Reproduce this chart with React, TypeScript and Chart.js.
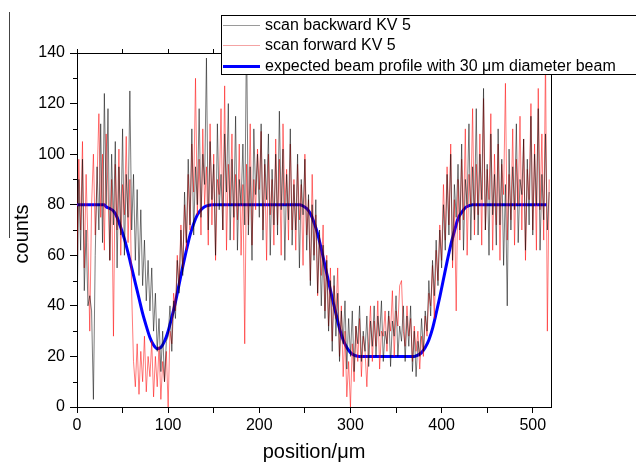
import React, { useEffect, useRef } from 'react';
import { Chart, registerables } from 'chart.js';

Chart.register(...registerables);

// ---- data ----
const SCAN_STEP_UM = 2; // scan positions: 0, 2, 4, ... µm

const scanBackward: number[] = [
  33, 90, 62, 98, 46, 70, 40, 44, 38, 3,
  60, 95, 70, 112, 65, 124, 80, 118, 58, 100,
  72, 105, 55, 95, 68, 110, 60, 92, 75, 125,
  70, 92, 58, 86, 52, 78, 48, 66, 42, 58,
  38, 55, 30, 45, 22, 35, 14, 30, 10, 26,
  28, 40, 22, 42, 35, 58, 45, 70, 52, 85,
  65, 98, 72, 110, 68, 95, 80, 118, 75, 100,
  88, 138, 70, 105, 82, 96, 60, 112, 78, 92,
  70, 108, 85, 120, 66, 98, 75, 115, 62, 90,
  80, 104, 72, 150, 68, 95, 58, 110, 84, 100,
  75, 112, 66, 98, 82, 108, 60, 94, 72, 100,
  68, 117, 78, 102, 58, 92, 74, 110, 64, 88,
  70, 100, 55, 90, 76, 98, 62, 84, 48, 80,
  58, 82, 45, 70, 40, 64, 35, 58, 30, 50,
  22, 52, 28, 45, 18, 38, 25, 42, 15, 35,
  20, 38, 14, 32, 25, 40, 18, 30, 22, 36,
  16, 34, 24, 40, 20, 36, 28, 42, 18, 30,
  25, 38, 16, 34, 28, 44, 20, 32, 26, 40,
  18, 36, 24, 40, 14, 30, 12, 26, 20, 35,
  22, 38, 30, 50, 36, 58, 44, 66, 48, 70,
  55, 80, 62, 92, 68, 100, 58, 88, 75, 96,
  70, 104, 62, 90, 80, 112, 66, 95, 74, 118,
  68, 100, 82, 126, 70, 96, 60, 108, 76, 92,
  64, 110, 72, 98, 56, 88, 40, 102, 70, 95,
  78, 112, 65, 90, 84, 106, 62, 98, 72, 115,
  68, 100, 80, 118, 62, 92, 74, 108, 70, 85,
];

const scanForward: number[] = [
  60, 98, 70, 105, 55, 92, 65, 30, 80, 100,
  68, 90, 116, 75, 100, 62, 108, 85, 58, 90,
  28, 96, 70, 102, 60, 88, 76, 107, 65, 90,
  45, 18, 8, 25, 5, 22, 10, 28, 6, 20,
  12, 26, 4, 20, 8, 24, 3, 18, 10, 22,
  0, 30, 25, 45, 38, 60, 48, 72, 55, 80,
  62, 92, 70, 104, 85, 130, 76, 98, 68, 110,
  80, 95, 64, 112, 72, 100, 58, 90, 84, 118,
  70, 127, 62, 96, 80, 108, 66, 92, 74, 104,
  60, 88, 25, 96, 72, 112, 64, 90, 78, 102,
  86, 109, 70, 96, 58, 100, 76, 90, 64, 106,
  72, 98, 60, 112, 80, 94, 66, 104, 70, 90,
  62, 96, 74, 88, 56, 100, 68, 82, 50, 92,
  60, 76, 44, 68, 52, 72, 38, 60, 32, 55,
  26, 48, 35, 55, 20, 40, 12, 30, 4, 18,
  0, 25, 10, 32, 18, 35, 12, 28, 22, 8,
  26, 40, 18, 34, 24, 42, 15, 30, 28, 38,
  22, 36, 30, 46, 20, 38, 32, 48, 50, 30,
  24, 40, 28, 35, 18, 32, 22, 30, 15, 28,
  20, 36, 28, 45, 40, 56, 35, 62, 50, 72,
  58, 88, 66, 95, 72, 104, 55, 82, 38, 90,
  66, 98, 74, 110, 60, 92, 80, 118, 68, 96,
  76, 108, 64, 122, 70, 94, 82, 116, 62, 100,
  72, 104, 58, 96, 84, 128, 66, 92, 74, 110,
  64, 98, 80, 115, 70, 106, 58, 94, 82, 120,
  70, 104, 62, 126, 78, 108, 66, 140, 30, 90,
];

const profileX: number[] = [
  0, 30, 32, 36, 40, 44, 48, 52, 56, 60, 64, 68, 72, 76, 80, 84, 88, 92, 96,
  100, 104, 108, 112, 116, 120, 124, 128, 132, 136, 140, 144, 148,
  244, 248, 252, 256, 260, 264, 268, 272, 276, 280, 284, 288, 292, 296, 300, 304, 308, 312,
  370, 374, 378, 382, 386, 390, 394, 398, 402, 406, 410, 414, 418, 422, 426, 430, 434, 515,
];
const profileY: number[] = [
  80, 80, 79.2, 78.5, 77.5, 75, 71, 66.5, 61, 55, 49, 43, 37, 32, 27.5, 24.5, 23, 23.5, 26,
  30, 35.5, 41.5, 48.5, 55.5, 62, 68, 72.5, 76, 78, 79.2, 79.7, 80,
  80, 79.5, 78.5, 76.5, 73, 68.5, 62.5, 56, 49.5, 43, 37, 31, 26.5, 23.5, 21.5, 20.5, 20.1, 20,
  20, 20.5, 21.5, 23.5, 26.5, 31, 37, 43.5, 50.5, 57.5, 64, 69.5, 74.5, 77, 78.8, 79.6, 80, 80,
];

const seriesNames = [
  'scan backward KV 5',
  'scan forward KV 5',
  'expected beam profile with 30 \u03bcm diameter beam',
];
const xTitle = 'position/\u03bcm';
const yTitle = 'counts';

const X_MIN = 0;
const X_MAX = 520;
const Y_MIN = 0;
const Y_MAX = 140;

// ---- styles ----
const FONT = '"Liberation Sans", Arial, sans-serif';
const COL_BACK = 'rgba(0,0,0,0.65)';
const COL_FWD = 'rgba(255,0,0,0.65)';
const COL_PROFILE = '#0000ff';
const LEGEND_BACK = '#9a9a9a';
const LEGEND_FWD = '#f4a3a3';

const decorPlugin = {
  id: 'decor',
  afterDraw(chart: any) {
    const { ctx, chartArea: a, scales } = chart;
    ctx.save();
    ctx.strokeStyle = '#000';
    ctx.lineWidth = 1;
    // right frame
    ctx.beginPath();
    ctx.moveTo(Math.round(a.right) + 0.5, a.top);
    ctx.lineTo(Math.round(a.right) + 0.5, a.bottom);
    ctx.stroke();
    // minor y ticks
    for (let v = 10; v < Y_MAX; v += 20) {
      const py = Math.round(scales.y.getPixelForValue(v)) + 0.5;
      ctx.beginPath();
      ctx.moveTo(a.left - 4, py);
      ctx.lineTo(a.left, py);
      ctx.stroke();
    }
    // stray frame line at far left
    ctx.strokeStyle = '#444';
    ctx.beginPath();
    ctx.moveTo(9.5, 12);
    ctx.lineTo(9.5, 238);
    ctx.stroke();

    // axis titles
    ctx.fillStyle = '#000';
    ctx.font = `20px ${FONT}`;
    ctx.textAlign = 'center';
    ctx.textBaseline = 'middle';
    ctx.fillText(xTitle, (a.left + a.right) / 2, 452);
    ctx.save();
    ctx.translate(22, 234);
    ctx.rotate(-Math.PI / 2);
    ctx.fillText(yTitle, 0, 0);
    ctx.restore();

    // legend box
    const lx = 221, ly = 15, lh = 60;
    ctx.fillStyle = '#fff';
    ctx.fillRect(lx, ly, 636 - lx + 5, lh);
    ctx.strokeStyle = '#000';
    ctx.lineWidth = 1;
    ctx.strokeRect(lx + 0.5, ly + 0.5, 636 - lx + 5, lh - 1);
    const items = [
      { c: LEGEND_BACK, w: 1, y: 25 },
      { c: LEGEND_FWD, w: 1, y: 45 },
      { c: COL_PROFILE, w: 3, y: 66 },
    ];
    ctx.font = `16px ${FONT}`;
    ctx.textAlign = 'left';
    ctx.textBaseline = 'middle';
    items.forEach((it, i) => {
      ctx.strokeStyle = it.c;
      ctx.lineWidth = it.w;
      ctx.beginPath();
      ctx.moveTo(223, it.y + 0.5);
      ctx.lineTo(260, it.y + 0.5);
      ctx.stroke();
      ctx.fillStyle = '#000';
      ctx.fillText(seriesNames[i], 265, it.y + 1);
    });
    ctx.restore();
  },
};

export default function App() {
  const ref = useRef<HTMLCanvasElement | null>(null);
  useEffect(() => {
    if (!ref.current) return;
    const tickFont = { family: FONT, size: 16 };
    const chart = new Chart(ref.current, {
      type: 'line',
      data: {
        datasets: [
          {
            label: seriesNames[0],
            data: scanBackward.map((v, i) => ({ x: i * SCAN_STEP_UM, y: v })),
            borderColor: COL_BACK,
            borderWidth: 0.8,
            pointRadius: 0,
            tension: 0,
          },
          {
            label: seriesNames[1],
            data: scanForward.map((v, i) => ({ x: i * SCAN_STEP_UM, y: v })),
            borderColor: COL_FWD,
            borderWidth: 0.8,
            pointRadius: 0,
            tension: 0,
          },
          {
            label: seriesNames[2],
            data: profileX.map((x, i) => ({ x, y: profileY[i] })),
            borderColor: COL_PROFILE,
            borderWidth: 3,
            pointRadius: 0,
            tension: 0.3,
            cubicInterpolationMode: 'monotone',
          },
        ],
      },
      options: {
        animation: false,
        responsive: false,
        devicePixelRatio: 1,
        layout: { padding: { left: 0, right: 85, top: 0, bottom: 0 } },
        plugins: { legend: { display: false }, tooltip: { enabled: false } },
        scales: {
          x: {
            type: 'linear',
            position: 'bottom',
            min: X_MIN,
            max: X_MAX,
            afterFit: (s: any) => { s.height = 57; },
            ticks: {
              stepSize: 50,
              includeBounds: false,
              autoSkip: false,
              maxRotation: 0,
              padding: 3,
              color: '#000',
              font: tickFont,
              callback: (v: any) => (Number(v) % 100 === 0 ? String(v) : ''),
            },
            grid: { drawOnChartArea: false, tickLength: 6, color: '#000', tickColor: '#000' },
            border: { display: true, color: '#000', width: 1 },
          },
          xTop: {
            type: 'linear',
            position: 'top',
            min: X_MIN,
            max: X_MAX,
            afterFit: (s: any) => { s.height = 53; },
            ticks: { stepSize: 50, includeBounds: false, display: false },
            grid: { drawOnChartArea: false, tickLength: 4, color: '#000', tickColor: '#000' },
            border: { display: true, color: '#000', width: 1 },
          },
          y: {
            type: 'linear',
            position: 'left',
            min: Y_MIN,
            max: Y_MAX,
            afterFit: (s: any) => { s.width = 77; },
            ticks: { stepSize: 20, padding: 5, color: '#000', font: tickFont },
            grid: { drawOnChartArea: false, tickLength: 7, color: '#000', tickColor: '#000' },
            border: { display: true, color: '#000', width: 1 },
          },
        },
      },
      plugins: [decorPlugin],
    } as any);
    return () => chart.destroy();
  }, []);
  return (
    <div style={{ position: 'absolute', left: 0, top: 0, width: 636, height: 464, background: '#fff' }}>
      <canvas ref={ref} width={636} height={464} style={{ display: 'block' }} />
    </div>
  );
}
